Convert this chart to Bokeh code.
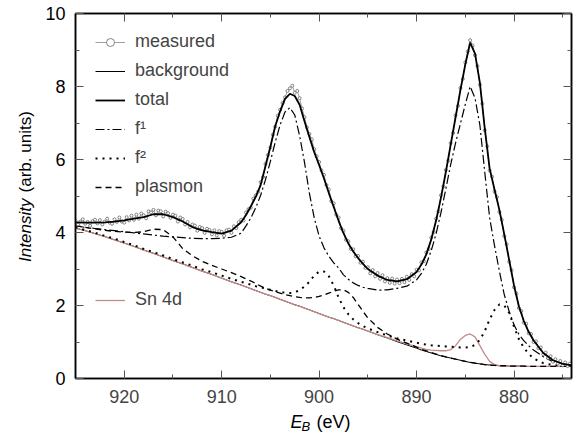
from math import pi

from bokeh.plotting import figure
from bokeh.layouts import row, column
from bokeh.models import Range1d, LinearAxis, SingleIntervalTicker, Legend, Label
from bokeh.embed import file_html
from bokeh.resources import INLINE

FONT = "Liberation Sans"

# binding energy grid of the fit curves (eV)
e_fit = [925, 924, 923, 922, 921, 920, 919, 918, 917, 916, 915, 914, 913, 912, 911, 910, 909, 908,
         907.5, 907, 906.5, 906, 905.5, 905, 904.5, 904, 903.5, 903, 902.5, 902, 901.5, 901, 900.5,
         900, 899.5, 899, 898.5, 898, 897.5, 897, 896.5, 896, 895.5, 895,
         894, 893, 892, 891, 890,
         889.5, 889, 888.5, 888, 887.5, 887, 886.5, 886, 885.5, 885, 884.5, 884, 883.5, 883, 882.5,
         882, 881.5, 881, 880.5, 880, 879.5, 879, 878.5, 878,
         877, 876, 875, 874]

background = [4.12, 4.05, 3.97, 3.89, 3.80, 3.71, 3.62, 3.52, 3.43, 3.33, 3.23, 3.14, 3.04, 2.94, 2.85, 2.75, 2.65, 2.56,
              2.51, 2.46, 2.41, 2.36, 2.31, 2.27, 2.22, 2.17, 2.12, 2.07, 2.02, 1.98, 1.93, 1.88, 1.83,
              1.78, 1.73, 1.68, 1.64, 1.59, 1.54, 1.49, 1.44, 1.39, 1.35, 1.30,
              1.20, 1.11, 1.01, 0.92, 0.83,
              0.78, 0.74, 0.70, 0.66, 0.62, 0.59, 0.56, 0.53, 0.50, 0.47, 0.44, 0.42, 0.40, 0.38, 0.37,
              0.36, 0.35, 0.35, 0.34, 0.34, 0.34, 0.34, 0.33, 0.33,
              0.33, 0.33, 0.33, 0.33]

sn4d = [4.12, 4.05, 3.97, 3.89, 3.80, 3.71, 3.62, 3.52, 3.43, 3.33, 3.23, 3.14, 3.04, 2.94, 2.85, 2.75, 2.65, 2.56,
        2.51, 2.46, 2.41, 2.36, 2.31, 2.27, 2.22, 2.17, 2.12, 2.07, 2.02, 1.98, 1.93, 1.88, 1.83,
        1.78, 1.73, 1.68, 1.64, 1.59, 1.54, 1.49, 1.44, 1.39, 1.35, 1.30,
        1.20, 1.12, 1.03, 0.95, 0.87,
        0.83, 0.80, 0.78, 0.77, 0.76, 0.76, 0.79, 0.90, 1.07, 1.18, 1.22, 1.14, 0.90, 0.66, 0.47,
        0.38, 0.35, 0.35, 0.34, 0.34, 0.34, 0.34, 0.33, 0.33,
        0.33, 0.33, 0.33, 0.33]

plasmon = [4.20, 4.14, 4.10, 4.06, 4.03, 4.01, 4.00, 4.02, 4.09, 4.08, 3.88, 3.56, 3.36, 3.21, 3.10, 3.00, 2.90, 2.79,
           2.73, 2.67, 2.60, 2.53, 2.47, 2.42, 2.38, 2.34, 2.30, 2.27, 2.24, 2.22, 2.21, 2.21, 2.22,
           2.25, 2.29, 2.34, 2.39, 2.43, 2.43, 2.36, 2.22, 2.03, 1.84, 1.66,
           1.40, 1.22, 1.08, 0.97, 0.86,
           0.80, 0.76, 0.71, 0.67, 0.63, 0.59, 0.56, 0.53, 0.50, 0.47, 0.44, 0.42, 0.40, 0.38, 0.37,
           0.36, 0.35, 0.35, 0.34, 0.34, 0.34, 0.34, 0.33, 0.33,
           0.33, 0.33, 0.33, 0.33]

f2 = [4.14, 4.07, 3.99, 3.91, 3.83, 3.74, 3.65, 3.55, 3.46, 3.37, 3.27, 3.18, 3.09, 2.99, 2.91, 2.82, 2.73, 2.65,
      2.61, 2.57, 2.53, 2.50, 2.46, 2.43, 2.40, 2.37, 2.35, 2.34, 2.36, 2.42, 2.52, 2.65, 2.82,
      2.93, 2.93, 2.80, 2.55, 2.22, 1.95, 1.76, 1.62, 1.52, 1.44, 1.37,
      1.27, 1.18, 1.10, 1.04, 0.98,
      0.95, 0.93, 0.91, 0.90, 0.89, 0.88, 0.87, 0.86, 0.85, 0.85, 0.86, 0.92, 1.06, 1.30, 1.62,
      1.88, 2.03, 2.00, 1.80, 1.42, 1.08, 0.85, 0.68, 0.55,
      0.42, 0.37, 0.35, 0.34]

f1 = [4.18, 4.14, 4.11, 4.08, 4.05, 4.02, 3.99, 3.96, 3.93, 3.90, 3.88, 3.86, 3.84, 3.83, 3.83, 3.84, 3.87, 3.98,
      4.18, 4.40, 4.68, 5.02, 5.45, 5.95, 6.48, 6.95, 7.30, 7.42, 7.22, 6.65, 5.92, 5.08, 4.40,
      3.90, 3.58, 3.35, 3.17, 3.03, 2.84, 2.72, 2.62, 2.55, 2.50, 2.47,
      2.42, 2.43, 2.47, 2.53, 2.70,
      2.88, 3.13, 3.50, 3.96, 4.54, 5.19, 5.86, 6.45, 6.98, 7.51, 8.00, 7.68, 6.94, 5.65, 4.40,
      3.64, 2.94, 2.30, 1.84, 1.47, 1.21, 1.04, 0.90, 0.78,
      0.60, 0.46, 0.40, 0.36]

total = [4.28, 4.27, 4.27, 4.28, 4.30, 4.33, 4.38, 4.42, 4.50, 4.50, 4.42, 4.30, 4.15, 4.06, 4.01, 3.97, 4.05, 4.28,
         4.48, 4.72, 4.98, 5.30, 5.82, 6.35, 6.92, 7.32, 7.66, 7.80, 7.74, 7.50, 7.05, 6.62, 6.20,
         5.85, 5.48, 5.08, 4.70, 4.32, 3.98, 3.70, 3.48, 3.30, 3.14, 3.00,
         2.82, 2.70, 2.66, 2.72, 2.92,
         3.12, 3.40, 3.80, 4.32, 4.95, 5.65, 6.40, 7.15, 7.90, 8.60, 9.20, 8.90, 8.10, 6.85, 5.75,
         5.18, 4.62, 3.95, 3.25, 2.55, 1.98, 1.58, 1.28, 1.05,
         0.70, 0.50, 0.40, 0.36]

# measured spectrum, 0.25 eV steps from 925 eV downwards
meas = [4.33, 4.22, 4.30, 4.36, 4.24, 4.29, 4.18, 4.31, 4.35, 4.25, 4.34, 4.22, 4.30, 4.38, 4.27, 4.24,
        4.36, 4.29, 4.41, 4.30, 4.27, 4.42, 4.33, 4.46, 4.35, 4.49, 4.38, 4.52, 4.47, 4.39, 4.58, 4.55,
        4.62, 4.47, 4.60, 4.58, 4.44, 4.57, 4.53, 4.40, 4.49, 4.46, 4.30, 4.41, 4.37, 4.22, 4.29, 4.14,
        4.22, 4.19, 4.05, 4.15, 4.12, 3.99, 4.10, 4.07, 3.95, 4.06, 3.92, 4.04, 4.02, 3.91, 4.06, 4.08,
        3.99, 4.17, 4.12, 4.28, 4.35, 4.33, 4.55, 4.64, 4.68, 4.93, 5.02, 5.12, 5.38, 5.52, 5.88, 6.12,
        6.33, 6.68, 6.90, 7.20, 7.36, 7.55, 7.70, 7.88, 7.95, 8.02, 7.83, 7.88, 7.68, 7.40, 7.16, 6.88,
        6.70, 6.55, 6.28, 6.09, 5.93, 5.70, 5.58, 5.30, 5.18, 4.86, 4.80, 4.49, 4.41, 4.12, 4.05, 3.80,
        3.76, 3.55, 3.54, 3.35, 3.36, 3.17, 3.20, 3.03, 3.05, 2.88, 2.97, 2.80, 2.89, 2.73, 2.83, 2.66,
        2.75, 2.62, 2.74, 2.60, 2.71, 2.61, 2.73, 2.64, 2.79, 2.70, 2.86, 2.80, 2.98, 2.96, 3.18, 3.21,
        3.45, 3.55, 3.86, 4.01, 4.38, 4.58, 5.02, 5.26, 5.71, 5.97, 6.45, 6.73, 7.21, 7.47, 7.96, 8.21,
        8.66, 8.96, 9.27, 9.12, 8.86, 8.56, 8.05, 7.53, 6.80, 6.36, 5.70, 5.53, 5.12, 4.97, 4.56, 4.35,
        3.90, 3.68, 3.20, 2.97, 2.50, 2.33, 1.93, 1.85, 1.53, 1.50, 1.24, 1.22, 1.00, 1.02, 0.83, 0.85,
        0.66, 0.71, 0.56, 0.61, 0.46, 0.53, 0.41, 0.48, 0.36, 0.44, 0.34, 0.41, 0.33]
e_meas = [925 - 0.25 * i for i in range(len(meas))]

YLAB_W = 37
TOP_H = 410
BOTTOM_H = 24

p = figure(width=573 - YLAB_W, height=TOP_H, x_range=Range1d(925, 874.1), y_range=Range1d(0, 10),
           output_backend="svg", toolbar_location=None,
           min_border_left=75 - YLAB_W, min_border_right=2, min_border_top=13, min_border_bottom=32)

p.xgrid.grid_line_color = None
p.ygrid.grid_line_color = None
p.outline_line_color = "black"
p.outline_line_width = 1.5

p.xaxis.ticker = SingleIntervalTicker(interval=10, num_minor_ticks=2)
p.yaxis.ticker = SingleIntervalTicker(interval=2, num_minor_ticks=2)
p.xaxis.major_label_standoff = 11
p.yaxis.major_label_standoff = 10
p.xaxis.major_label_text_font_size = "18px"
p.yaxis.major_label_text_font_size = "18px"

# ticks on the top and right side, labels not drawn
top_ax = LinearAxis(ticker=SingleIntervalTicker(interval=10, num_minor_ticks=2))
right_ax = LinearAxis(ticker=SingleIntervalTicker(interval=2, num_minor_ticks=2))
for ax in (top_ax, right_ax):
    ax.major_label_text_font_size = "1px"
    ax.major_label_text_color = None
    ax.major_label_standoff = 0
p.add_layout(top_ax, "above")
p.add_layout(right_ax, "right")

for ax in p.xaxis + p.yaxis:
    ax.major_tick_in = 8
    ax.major_tick_out = 0
    ax.minor_tick_in = 4
    ax.minor_tick_out = 0
    ax.major_tick_line_color = "#555555"
    ax.minor_tick_line_color = "#555555"
    ax.axis_line_color = "black"
    ax.axis_line_width = 1.5
    ax.major_label_text_font = FONT
p.xaxis[0].major_label_text_color = "black"
p.yaxis[0].major_label_text_color = "black"

# curves
r_bg = p.line(e_fit, background, line_color="black", line_width=1)
r_sn = p.line(e_fit, sn4d, line_color="#c48b8b", line_width=1.3)
r_pl = p.line(e_fit, plasmon, line_color="black", line_width=1.3, line_dash="6 4")
r_f2 = p.line(e_fit, f2, line_color="black", line_width=2, line_dash="2 5")
r_f1 = p.line(e_fit, f1, line_color="black", line_width=1.2, line_dash="9 3 2 3")
r_ml = p.line(e_meas, meas, line_color="#888888", line_width=0.8)
r_ms = p.scatter(e_meas, meas, marker="circle", size=3, line_color="#555555",
                 fill_color="white", line_width=0.7)
r_tot = p.line(e_fit, total, line_color="black", line_width=1.8)

leg_kw = dict(glyph_width=30, glyph_height=20, label_height=20, label_standoff=10, spacing=8,
              padding=0, margin=0, border_line_color=None, background_fill_alpha=0,
              label_text_font=FONT, label_text_font_size="18px")

legend = Legend(items=[("measured", [r_ml, r_ms]), ("background", [r_bg]), ("total", [r_tot]),
                       ("f\u00b9", [r_f1]), ("f\u00b2", [r_f2]), ("plasmon", [r_pl])],
                location=(20, 181), **leg_kw)
legend_sn = Legend(items=[("Sn 4d", [r_sn])], location=(20, 68), **leg_kw)
p.add_layout(legend)
p.add_layout(legend_sn)

lab_kw = dict(text_font=FONT, text_font_size="18px", text_color="black",
              text_baseline="middle", text_align="left")


def text_strip(width, height):
    f = figure(width=width, height=height, x_range=Range1d(0, width), y_range=Range1d(0, height),
               output_backend="svg", toolbar_location=None, min_border=0)
    f.axis.visible = False
    f.grid.visible = False
    f.outline_line_color = None
    return f


# y axis title, "Intensity" in italics
ylab_kw = {**lab_kw, "text_font_size": "17px"}
ylab = text_strip(YLAB_W, TOP_H)
ylab.add_layout(Label(x=25, y=TOP_H - 279, angle=pi / 2, text="Intensity", text_font_style="italic", **ylab_kw))
ylab.add_layout(Label(x=25, y=TOP_H - 201, angle=pi / 2, text="(arb. units)", **ylab_kw))

# x axis title E_B (eV)
xlab = text_strip(573, BOTTOM_H)
bottom = TOP_H + BOTTOM_H
xlab.add_layout(Label(x=290, y=bottom - 421, text="E", text_font_style="italic", **lab_kw))
xlab.add_layout(Label(x=301, y=bottom - 426, text="B", text_font_style="italic",
                      **{**lab_kw, "text_font_size": "13px"}))
xlab.add_layout(Label(x=316, y=bottom - 421, text="(eV)", **lab_kw))

layout = column(row(ylab, p), xlab)

open("out.html", "w").write(file_html(layout, INLINE))
